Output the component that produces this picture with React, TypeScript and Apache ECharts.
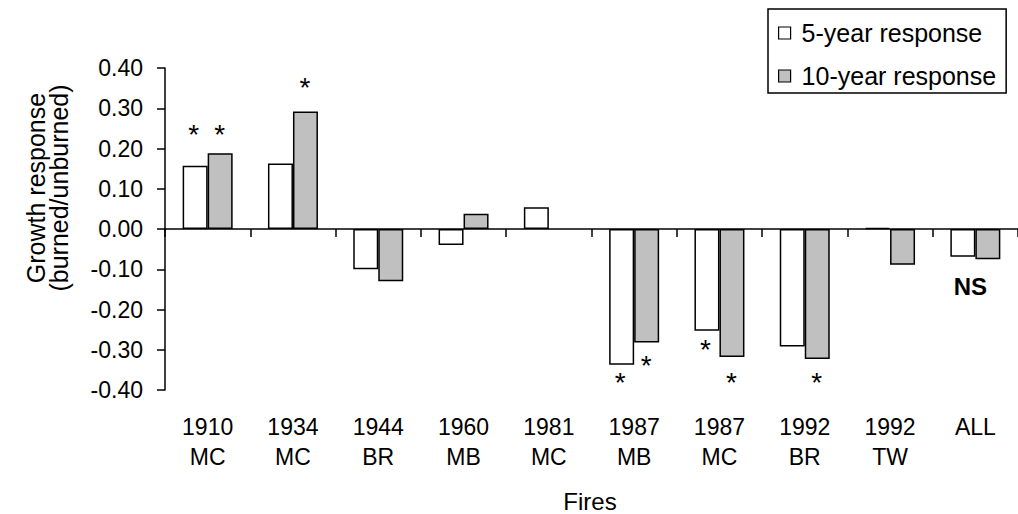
import React, { useEffect, useRef } from "react";
import * as echarts from "echarts";

const categories = ["1910\nMC", "1934\nMC", "1944\nBR", "1960\nMB", "1981\nMC", "1987\nMB", "1987\nMC", "1992\nBR", "1992\nTW", "ALL"];
const fiveYear = [0.157, 0.163, -0.1, -0.04, 0.054, -0.337, -0.253, -0.292, 0.003, -0.069];
const tenYear: (number | null)[] = [0.188, 0.292, -0.13, 0.038, null, -0.282, -0.318, -0.323, -0.089, -0.075];
const yTicks = [-0.4, -0.3, -0.2, -0.1, 0, 0.1, 0.2, 0.3, 0.4];
const fiveYearStars: [string, number][] = [["1910\nMC", 0.251], ["1987\nMB", -0.365], ["1987\nMC", -0.282]];
const tenYearStars: [string, number][] = [["1910\nMC", 0.251], ["1934\nMC", 0.368], ["1987\nMB", -0.321], ["1987\nMC", -0.365], ["1992\nBR", -0.365]];
const nsMark: [string, number][] = [["ALL", -0.142]];

const FONT = "'Liberation Sans', Arial, sans-serif";

export default function App() {
  const ref = useRef<HTMLDivElement>(null);
  useEffect(() => {
    if (!ref.current) return;
    const chart = echarts.init(ref.current, undefined, { renderer: "svg" });
    const hiddenPoint = { color: "rgba(0,0,0,0)", opacity: 1 };
    const starLabel = (dx: number) => ({
      show: true,
      formatter: "*",
      position: "inside",
      offset: [dx, 7],
      color: "#000",
      textBorderWidth: 0,
      textBorderColor: "transparent",
      fontSize: 28,
      fontFamily: FONT,
    });
    chart.setOption({
      animation: false,
      backgroundColor: "#fff",
      textStyle: { fontFamily: FONT },
      grid: { left: 165, right: 0, top: 68, bottom: 124, containLabel: false, outerBoundsMode: "none" },
      legend: {
        data: ["5-year response", "10-year response"],
        orient: "vertical",
        left: 768,
        top: 9,
        borderColor: "#000",
        borderWidth: 1.5,
        borderRadius: 0,
        padding: [10, 10, 3, 10],
        itemWidth: 12,
        itemHeight: 12,
        itemGap: 15,
        icon: "rect",
        selectedMode: false,
        itemStyle: { borderColor: "#000", borderWidth: 1.2 },
        textStyle: { fontSize: 25, fontFamily: FONT, color: "#000", lineHeight: 28, padding: [0, 0, 0, 6] },
      },
      xAxis: {
        type: "category",
        data: categories,
        axisLine: { onZero: true, lineStyle: { color: "#000", width: 1.5 } },
        axisTick: { show: true, alignWithLabel: false, length: 8, lineStyle: { color: "#000", width: 1.5 } },
        axisLabel: {
          interval: 0,
          margin: 22,
          fontSize: 23,
          lineHeight: 30,
          color: "#000",
          fontFamily: FONT,
        },
        splitLine: { show: false },
      },
      yAxis: {
        type: "value",
        min: yTicks[0],
        max: yTicks[yTicks.length - 1],
        interval: 0.1,
        axisLine: { show: true, onZero: false, lineStyle: { color: "#000", width: 1.5 } },
        axisTick: { show: true, length: 8, lineStyle: { color: "#000", width: 1.5 } },
        axisLabel: {
          margin: 22,
          fontSize: 23,
          color: "#000",
          fontFamily: FONT,
          formatter: (v: number) => (Math.abs(v) < 1e-9 ? "0.00" : v.toFixed(2)),
        },
        splitLine: { show: false },
      },
      series: [
        {
          name: "5-year response",
          type: "bar",
          data: fiveYear,
          barWidth: 25,
          barGap: "0%",
          itemStyle: { color: "#ffffff", borderColor: "#000", borderWidth: 1.5 },
        },
        {
          name: "10-year response",
          type: "bar",
          data: tenYear,
          barWidth: 25,
          barGap: "0%",
          itemStyle: { color: "#c0c0c0", borderColor: "#000", borderWidth: 1.5 },
        },
        {
          type: "scatter",
          data: fiveYearStars,
          symbolSize: 1,
          itemStyle: hiddenPoint,
          label: starLabel(-14),
          z: 5,
        },
        {
          type: "scatter",
          data: tenYearStars,
          symbolSize: 1,
          itemStyle: hiddenPoint,
          label: starLabel(12),
          z: 5,
        },
        {
          type: "scatter",
          data: nsMark,
          symbolSize: 1,
          itemStyle: hiddenPoint,
          label: {
            show: true,
            formatter: "NS",
            position: "inside",
            offset: [-5, 0],
            color: "#000",
            textBorderWidth: 0,
            textBorderColor: "transparent",
            fontSize: 24,
            fontWeight: "bold",
            fontFamily: FONT,
          },
          z: 5,
        },
      ],
      graphic: [
        {
          type: "text",
          x: 47,
          y: 188,
          rotation: Math.PI / 2,
          style: {
            text: "Growth response\n(burned/unburned)",
            align: "center",
            verticalAlign: "middle",
            lineHeight: 23,
            fontSize: 25,
            fontFamily: FONT,
            fill: "#000",
          },
        },
        {
          type: "text",
          x: 590,
          y: 501,
          style: {
            text: "Fires",
            align: "center",
            verticalAlign: "middle",
            fontSize: 24,
            fontFamily: FONT,
            fill: "#000",
          },
        },
      ],
    });
    return () => chart.dispose();
  }, []);
  return (
    <div
      ref={ref}
      style={{ position: "fixed", left: 0, top: 0, width: 1018, height: 514, background: "#fff" }}
    />
  );
}
